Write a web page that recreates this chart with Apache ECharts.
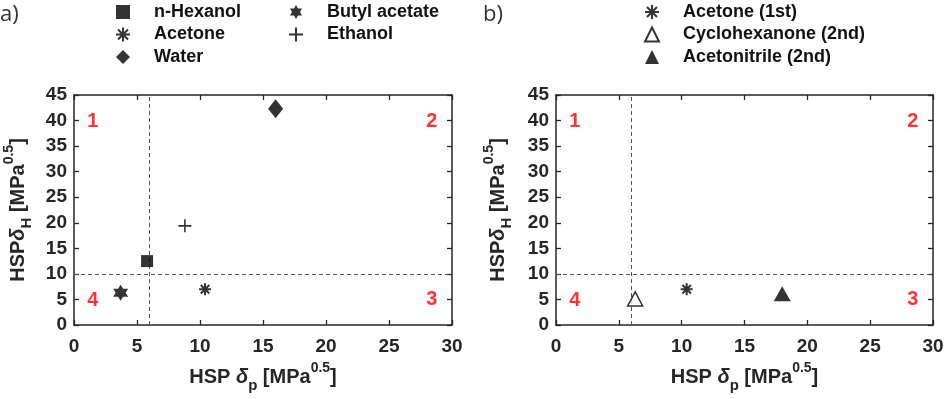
<!DOCTYPE html>
<html>
<head>
<meta charset="utf-8">
<script src="https://cdn.jsdelivr.net/npm/echarts@6/dist/echarts.min.js"></script>
<style>html,body{margin:0;padding:0;background:#fff}#c{width:945px;height:399px}</style>
</head>
<body>
<div id="c"></div>
<script>
// ---- data ----
const leftNames = ['n-Hexanol', 'Acetone', 'Water', 'Butyl acetate', 'Ethanol'];
const leftDp = [5.8, 10.4, 16.0, 3.7, 8.8];
const leftDh = [12.5, 7.0, 42.3, 6.3, 19.4];
const rightNames = ['Acetone (1st)', 'Cyclohexanone (2nd)', 'Acetonitrile (2nd)'];
const rightDp = [10.4, 6.3, 18.0];
const rightDh = [7.0, 5.1, 6.1];
const quadLabels = ['1', '2', '3', '4'];
const quadDp = [1.5, 28.4, 28.4, 1.5];
const quadDh = [39.8, 39.8, 4.9, 4.7];
const dividerDp = 6;
const dividerDh = 10;
const xMin = 0, xMax = 30, xStep = 5;
const yMin = 0, yMax = 45, yStep = 5;

// ---- styles ----
const ink = '#262626';
const FONT = '"Liberation Sans", Arial, sans-serif';
const SYM = {
  asterisk: 'path://M0,-1L0,1M-1,0L1,0M-0.71,-0.71L0.71,0.71M-0.71,0.71L0.71,-0.71',
  plus: 'path://M0,-1L0,1M-1,0L1,0',
  hexagram: 'path://M0,-1L0.866,0.5L-0.866,0.5ZM0,1L-0.866,-0.5L0.866,-0.5Z'
};
const leftStyle = [
  { symbol: 'rect', symbolSize: 12, itemStyle: { color: '#000' } },
  { symbol: SYM.asterisk, symbolSize: 12, itemStyle: { color: '#000', borderColor: '#000', borderWidth: 2 } },
  { symbol: 'diamond', symbolSize: [15, 19], itemStyle: { color: '#000' } },
  { symbol: SYM.hexagram, symbolSize: [15, 16], itemStyle: { color: '#000' } },
  { symbol: SYM.plus, symbolSize: 13, itemStyle: { color: '#000', borderColor: '#000', borderWidth: 1.6 } }
];
const rightStyle = [
  { symbol: SYM.asterisk, symbolSize: 12, itemStyle: { color: '#000', borderColor: '#000', borderWidth: 2 } },
  { symbol: 'triangle', symbolSize: [15, 14], itemStyle: { color: '#fff', borderColor: '#000', borderWidth: 1.5 } },
  { symbol: 'triangle', symbolSize: [17, 15], itemStyle: { color: '#000' } }
];

const nameRich = {
  b: { fontFamily: FONT, fontWeight: 'bold', fontSize: 20, color: ink, lineHeight: 32 },
  i: { fontFamily: FONT, fontWeight: 'bold', fontStyle: 'italic', fontSize: 20, color: ink, lineHeight: 32 },
  sub: { fontFamily: FONT, fontWeight: 'bold', fontSize: 15, color: ink, lineHeight: 14, verticalAlign: 'bottom' },
  sup: { fontFamily: FONT, fontWeight: 'bold', fontSize: 14, color: ink, lineHeight: 14, verticalAlign: 'top' }
};
const xName = '{b|HSP }{i|δ}{sub|p}{b| [MPa}{sup|0.5}{b|]}';
const yName = '{b|HSP}{i|δ}{sub|H}{b| [MPa}{sup|0.5}{b|]}';

const grids = [
  { left: 74, top: 95, width: 378, height: 230, outerBoundsMode: 'none', containLabel: false },
  { left: 556, top: 95, width: 377, height: 230, outerBoundsMode: 'none', containLabel: false }
];

function mkX(gi, pos) {
  const main = pos === 'bottom';
  return {
    type: 'value', gridIndex: gi, position: pos, min: xMin, max: xMax, interval: xStep,
    axisLine: { show: true, onZero: false, lineStyle: { color: ink, width: 1.5 } },
    axisTick: { show: true, inside: true, length: 5, lineStyle: { color: ink, width: 1.3 } },
    axisLabel: { show: main, margin: 12, fontFamily: FONT, fontWeight: 'bold', fontSize: 19, color: ink },
    splitLine: { show: false },
    name: main ? xName : '', nameLocation: 'middle', nameGap: 36,
    nameTextStyle: { rich: nameRich }
  };
}
function mkY(gi, pos, gap) {
  const main = pos === 'left';
  return {
    type: 'value', gridIndex: gi, position: pos, min: yMin, max: yMax, interval: yStep,
    axisLine: { show: true, onZero: false, lineStyle: { color: ink, width: 1.5 } },
    axisTick: { show: true, inside: true, length: 5, lineStyle: { color: ink, width: 1.3 } },
    axisLabel: { show: main, margin: 7, fontFamily: FONT, fontWeight: 'bold', fontSize: 19, color: ink },
    splitLine: { show: false },
    name: main ? yName : '', nameLocation: 'middle', nameGap: gap || 40, nameRotate: 90,
    nameTextStyle: { rich: nameRich }
  };
}

const series = [];
leftNames.forEach((n, k) => {
  series.push(Object.assign({
    type: 'scatter', name: n, xAxisIndex: 0, yAxisIndex: 0,
    data: [[leftDp[k], leftDh[k]]], z: 5
  }, leftStyle[k]));
});
rightNames.forEach((n, k) => {
  series.push(Object.assign({
    type: 'scatter', name: n, xAxisIndex: 2, yAxisIndex: 2,
    data: [[rightDp[k], rightDh[k]]], z: 5
  }, rightStyle[k]));
});
[0, 2].forEach(ai => {
  series.push({
    type: 'scatter', xAxisIndex: ai, yAxisIndex: ai, symbolSize: 0, silent: true,
    data: quadLabels.map((t, k) => ({ value: [quadDp[k], quadDh[k]], name: t })),
    label: { show: true, position: 'inside', formatter: p => p.name, color: '#ff0000',
      fontFamily: FONT, fontWeight: 'bold', fontSize: 20 },
    markLine: {
      silent: true, symbol: 'none', animation: false,
      label: { show: false },
      lineStyle: { type: [4, 3], color: '#555', width: 1 },
      data: [{ xAxis: dividerDp }, { yAxis: dividerDh }]
    }
  });
});

const legendBase = {
  orient: 'vertical', top: -3, itemGap: 2.5, itemWidth: 14, itemHeight: 14,
  selectedMode: false,
  textStyle: { fontFamily: FONT, fontWeight: 'bold', fontSize: 18, color: '#111', lineHeight: 20, padding: [0, 0, 0, 19] }
};

const option = {
  animation: false,
  backgroundColor: '#fff',
  grid: grids,
  xAxis: [mkX(0, 'bottom'), mkX(0, 'top'), mkX(1, 'bottom'), mkX(1, 'top')],
  yAxis: [mkY(0, 'left', 40), mkY(0, 'right'), mkY(1, 'left', 42), mkY(1, 'right')],
  legend: [
    Object.assign({}, legendBase, { left: 110, data: leftNames.slice(0, 3) }),
    Object.assign({}, legendBase, { left: 283, data: leftNames.slice(3) }),
    Object.assign({}, legendBase, { left: 639, data: rightNames })
  ],
  graphic: [
    { type: 'text', left: 0, top: 4, style: { text: 'a)', font: '22px "Open Sans", sans-serif', fill: '#333' } },
    { type: 'text', left: 483, top: 4, style: { text: 'b)', font: '22px "Open Sans", sans-serif', fill: '#333' } }
  ],
  series: series
};
const chart = echarts.init(document.getElementById('c'), null, { renderer: 'canvas' });
chart.setOption(option);
</script>
</body>
</html>
